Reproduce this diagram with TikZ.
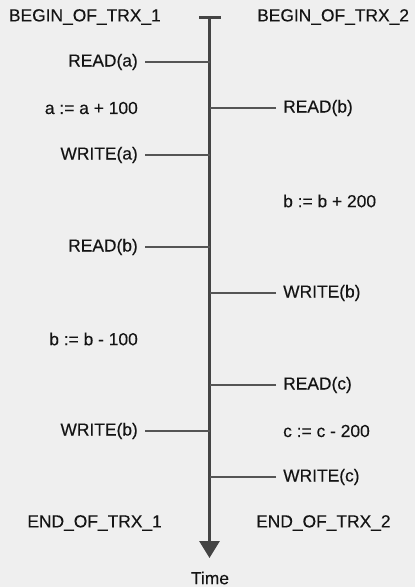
\documentclass[tikz,border=0pt]{standalone}
\usepackage{fontspec}
\setmainfont{Liberation Sans}
\newfontfamily\lblfont[FakeBold=0.25]{Liberation Sans}
\usetikzlibrary{arrows.meta}
\definecolor{bg}{HTML}{EFEFEF}
\definecolor{ink}{HTML}{141414}
\definecolor{axiscol}{HTML}{444444}
\definecolor{branchcol}{HTML}{555555}
\begin{document}
\begin{tikzpicture}[x=1pt,y=-1pt,
  lbl/.style={inner sep=0pt, inner xsep=7pt, text=ink, font=\lblfont\fontsize{17.4}{20}\selectfont},
  leftop/.style={lbl, anchor=east},
  rightop/.style={lbl, anchor=west},
  branch/.style={draw=branchcol, line width=1.5pt},
  timeaxis/.style={draw=axiscol, line width=3pt, -{Triangle[width=20pt,length=17pt]}}]
  % canvas
  \fill[bg] (0,0) rectangle (415,587);
  \useasboundingbox (0,0) rectangle (415,587);

  % time axis with start bar
  \coordinate (top) at (209.5,17);
  \coordinate (bottom) at (209.5,558);
  \coordinate (barL) at (199,17);
  \coordinate (barR) at (221,17);
  \draw[axiscol, line width=3pt] (barL) -- (barR);
  \path[timeaxis] (top) -- (bottom);
  \node[lbl, inner xsep=0pt, anchor=center] (time) at (210,578) {Time};

  % transaction 1
  \node[lbl, inner xsep=0pt, anchor=east] (b1) at (161,17) {BEGIN\_OF\_TRX\_1};
  \node[leftop] (r1a) at (145,62) {READ(a)};
  \node[leftop] (c1a) at (145,108) {a := a + 100};
  \node[leftop] (w1a) at (145,155) {WRITE(a)};
  \node[leftop] (r1b) at (145,247) {READ(b)};
  \node[leftop] (c1b) at (145,339) {b := b - 100};
  \node[leftop] (w1b) at (145,431) {WRITE(b)};
  \node[lbl, inner xsep=0pt, anchor=east] (e1) at (162,523) {END\_OF\_TRX\_1};

  % transaction 2
  \node[lbl, inner xsep=0pt, anchor=west] (b2) at (257,17) {BEGIN\_OF\_TRX\_2};
  \node[rightop] (r2b) at (276,108) {READ(b)};
  \node[rightop] (c2b) at (276,201) {b := b + 200};
  \node[rightop] (w2b) at (276,293) {WRITE(b)};
  \node[rightop] (r2c) at (276,385) {READ(c)};
  \node[rightop] (c2c) at (276,431) {c := c - 200};
  \node[rightop] (w2c) at (276,477) {WRITE(c)};
  \node[lbl, inner xsep=0pt, anchor=west] (e2) at (256,523) {END\_OF\_TRX\_2};

  % operations hooked onto the axis
  \foreach \n in {r1a,w1a,r1b,w1b}
    \draw[branch] (\n.east) -- (\n.east -| top);
  \foreach \n in {r2b,w2b,r2c,w2c}
    \draw[branch] (\n.west) -- (\n.west -| top);
\end{tikzpicture}
\end{document}
